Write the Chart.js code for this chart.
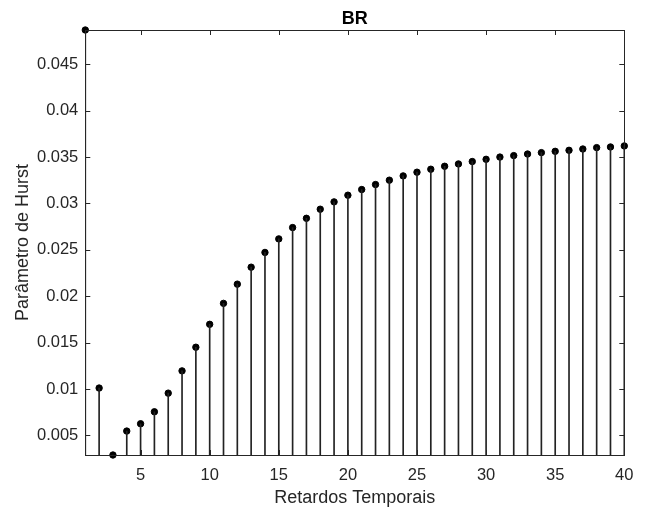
<!DOCTYPE html>
<html>
<head>
<meta charset="utf-8">
<script src="https://cdn.jsdelivr.net/npm/chart.js@4.4.0/dist/chart.umd.min.js"></script>
<style>
  html, body { margin: 0; padding: 0; background: #fff; }
  #wrap { width: 646px; height: 513px; }
</style>
</head>
<body>
<div id="wrap"><canvas id="chart" width="646" height="513"></canvas></div>
<script>
// lags 1..40 and the Hurst parameter
const lags = [1, 2, 3, 4, 5, 6, 7, 8, 9, 10,
  11, 12, 13, 14, 15, 16, 17, 18, 19, 20,
  21, 22, 23, 24, 25, 26, 27, 28, 29, 30,
  31, 32, 33, 34, 35, 36, 37, 38, 39, 40];
const hurst = [0.0487, 0.0101, 0.00288, 0.00546, 0.00625, 0.00754, 0.00955, 0.01195, 0.0145, 0.01697,
  0.01923, 0.0213, 0.02313, 0.02472, 0.02618, 0.0274, 0.0284, 0.02938, 0.03017, 0.03089,
  0.0315, 0.03204, 0.03251, 0.03297, 0.03337, 0.03369, 0.03401, 0.03426, 0.03452, 0.03476,
  0.035, 0.03516, 0.03533, 0.03548, 0.03562, 0.03573, 0.03587, 0.03602, 0.03609, 0.0362];
const xTicks = [5, 10, 15, 20, 25, 30, 35, 40];
const yTicks = [0.005, 0.01, 0.015, 0.02, 0.025, 0.03, 0.035, 0.04, 0.045];

const axisColor = "#262626";
const fontFamily = "'Liberation Sans', Arial, Helvetica, sans-serif";

const points = lags.map((x, i) => ({ x: x, y: hurst[i] }));

// matlab style box with inward ticks on all four sides
const boxPlugin = {
  id: "box",
  afterDraw(chart) {
    const { ctx, chartArea: a, scales } = chart;
    const len = 5;
    ctx.save();
    ctx.strokeStyle = axisColor;
    ctx.lineWidth = 1;
    ctx.beginPath();
    xTicks.forEach(t => {
      const px = Math.round(scales.x.getPixelForValue(t)) + 0.5;
      ctx.moveTo(px, a.bottom); ctx.lineTo(px, a.bottom - len);
      ctx.moveTo(px, a.top); ctx.lineTo(px, a.top + len);
    });
    yTicks.forEach(t => {
      const py = Math.round(scales.y.getPixelForValue(t)) + 0.5;
      ctx.moveTo(a.left, py); ctx.lineTo(a.left + len, py);
      ctx.moveTo(a.right, py); ctx.lineTo(a.right - len, py);
    });
    ctx.stroke();
    ctx.strokeRect(Math.round(a.left) + 0.5, Math.round(a.top) + 0.5,
      Math.round(a.right - a.left), Math.round(a.bottom - a.top));
    ctx.restore();
  }
};

new Chart(document.getElementById("chart"), {
  data: {
    datasets: [
      {
        type: "bar",
        data: points,
        backgroundColor: "#222",
        barThickness: 1,
        borderWidth: 0
      },
      {
        type: "scatter",
        data: points,
        backgroundColor: "#000",
        borderColor: "#000",
        pointRadius: 3.2,
        pointHoverRadius: 3.2,
        clip: false
      }
    ]
  },
  options: {
    responsive: false,
    animation: false,
    events: [],
    layout: { padding: { left: 0, right: 21.7, top: 0, bottom: 0 } },
    plugins: {
      legend: { display: false },
      tooltip: { enabled: false },
      title: { display: false }
    },
    scales: {
      x: {
        type: "linear",
        min: 1,
        max: 40,
        offset: false,
        grid: { display: false, drawTicks: false },
        border: { display: false },
        afterBuildTicks: s => { s.ticks = xTicks.map(v => ({ value: v })); },
        afterFit: s => { s.height = 513 - 455; },
        ticks: {
          color: axisColor,
          padding: 11,
          maxRotation: 0,
          font: { family: fontFamily, size: 16.5 }
        },
        title: {
          display: true,
          text: "Retardos Temporais",
          color: axisColor,
          font: { family: fontFamily, size: 18, lineHeight: 1.2 },
          padding: { top: 0, bottom: 4.5 }
        }
      },
      // top axis only carries the title so it centres over the plot box
      top: {
        type: "linear",
        position: "top",
        min: 1,
        max: 40,
        offset: false,
        grid: { display: false, drawTicks: false },
        border: { display: false },
        ticks: { display: false },
        afterFit: s => { s.height = 30; },
        title: {
          display: true,
          text: "BR",
          color: "#000",
          font: { family: fontFamily, size: 18, weight: "bold", lineHeight: 1.2 },
          padding: { top: 8, bottom: 0 }
        }
      },
      y: {
        type: "linear",
        min: Math.min(...hurst),
        max: Math.max(...hurst),
        grid: { display: false, drawTicks: false },
        border: { display: false },
        afterBuildTicks: s => { s.ticks = yTicks.map(v => ({ value: v })); },
        afterFit: s => { s.width = 85.3; },
        ticks: {
          color: axisColor,
          padding: 7,
          font: { family: fontFamily, size: 16.5 },
          callback: v => String(Number(v.toFixed(4)))
        },
        title: {
          display: true,
          text: "Parâmetro de Hurst",
          color: axisColor,
          font: { family: fontFamily, size: 18, lineHeight: 1.2 },
          padding: { top: 12.5, bottom: 0 }
        }
      }
    }
  },
  plugins: [boxPlugin]
});
</script>
</body>
</html>
